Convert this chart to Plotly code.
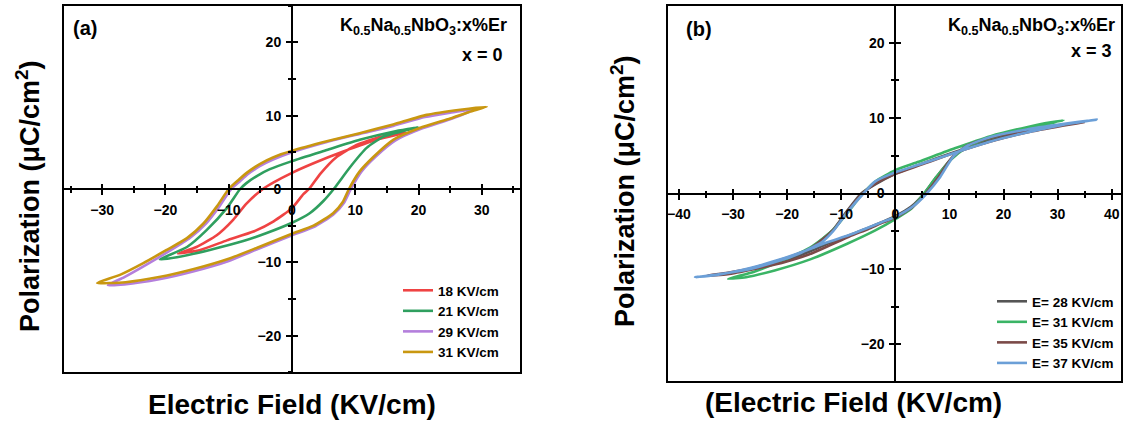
import plotly.graph_objects as go

W, H = 1123, 426
FONT = "Liberation Sans, Arial, Helvetica, sans-serif"

# ---------------- Panel (a): x = 0 ----------------
a_labels = ["18 KV/cm", "21 KV/cm", "29 KV/cm", "31 KV/cm"]
a_colors = ["#ef4343", "#2f9f5f", "#b47fdc", "#c99710"]

a18_E = [18.1, 13.4, 8.1, 3.4, 0.0, -2.9, -4.6, -7.2, -9.3, -11.9, -15.1, -18.0,
         -14.5, -10.3, -6.1, -2.9, 0.0, 1.8, 2.7, 4.5, 7.1, 10.2, 13.9, 18.1]
a18_P = [7.7, 6.7, 5.1, 3.5, 2.2, 0.9, 0.0, -2.0, -4.2, -6.3, -7.9, -8.8,
         -8.3, -7.0, -5.8, -4.4, -2.6, -0.7, 0.0, 2.1, 4.4, 6.0, 7.1, 7.7]

a21_E = [20.0, 16.0, 10.7, 5.5, 0.0, -3.5, -5.5, -7.2, -8.2, -10.3, -13.5, -16.6, -20.9,
         -18.2, -13.0, -7.7, -4.0, 0.0, 2.8, 5.0, 6.6, 9.2, 11.8, 14.4, 18.0, 20.0]
a21_P = [8.4, 7.8, 6.7, 5.3, 3.8, 2.7, 1.8, 0.8, 0.0, -2.6, -5.6, -7.9, -9.6,
         -9.3, -8.3, -7.1, -6.0, -4.6, -3.3, -1.6, 0.0, 3.0, 5.6, 7.1, 8.0, 8.4]

a29_E = [29.0, 25.0, 21.0, 16.0, 10.7, 5.5, 0.0, -3.0, -5.1, -7.0, -8.3, -9.6, -11.5,
         -13.6, -16.2, -19.3, -23.0, -26.5, -29.1,
         -26.5, -21.0, -15.5, -10.0, -5.5, 0.0, 3.4, 6.5, 8.2, 9.3, 11.0, 13.2, 16.3,
         20.4, 25.0, 29.0]
a29_P = [10.9, 10.4, 9.8, 8.6, 7.5, 6.4, 5.0, 4.0, 3.1, 2.0, 1.0, 0.0, -2.4,
         -4.7, -6.7, -8.4, -10.3, -12.0, -13.1,
         -13.0, -12.3, -11.2, -9.8, -8.2, -6.3, -5.2, -3.5, -1.9, 0.0, 2.4, 4.4, 6.6,
         8.2, 9.5, 10.9]

a31_E = [30.8, 26.6, 21.3, 16.0, 10.7, 5.5, 0.0, -3.0, -5.1, -7.0, -8.5, -10.0, -11.9,
         -14.0, -16.6, -19.8, -23.5, -27.2, -30.8,
         -26.3, -21.0, -15.5, -10.0, -5.5, 0.0, 3.4, 6.5, 8.0, 9.0, 10.7, 12.9, 16.0,
         20.2, 25.0, 28.0, 30.8]
a31_P = [11.2, 10.8, 10.1, 8.8, 7.6, 6.5, 5.2, 4.3, 3.4, 2.3, 1.2, 0.0, -2.4,
         -4.7, -6.7, -8.3, -10.1, -11.7, -12.8,
         -12.7, -12.0, -10.9, -9.5, -8.0, -6.1, -5.0, -3.3, -1.8, 0.0, 2.4, 4.4, 6.7,
         8.3, 9.6, 10.5, 11.2]

# ---------------- Panel (b): x = 3 ----------------
b_labels = ["E= 28 KV/cm", "E= 31 KV/cm", "E= 35 KV/cm", "E= 37 KV/cm"]
b_colors = ["#555555", "#3ab465", "#7b4a48", "#6b9fd7"]

b28_E = [28.2, 24.0, 17.6, 11.0, 4.3, 0.0, -3.7, -6.3, -9.0, -11.5, -15.5, -20.0, -24.5, -28.2,
         -24.5, -20.0, -15.5, -12.0, -8.0, -4.5, 0.0, 3.0, 5.3, 7.6, 10.2, 13.2, 17.6, 24.0, 28.2]
b28_P = [8.9, 8.3, 7.0, 5.5, 3.8, 2.6, 1.2, 0.0, -2.4, -4.8, -7.2, -8.6, -9.6, -10.2,
         -9.7, -8.8, -7.6, -6.5, -5.4, -4.4, -3.0, -1.7, 0.0, 2.2, 4.5, 6.3, 7.3, 8.4, 8.9]

b31_E = [31.1, 27.6, 24.3, 17.6, 11.0, 4.3, 0.0, -3.7, -6.0, -9.0, -11.6, -15.6, -20.9, -26.2, -30.9,
         -27.6, -22.3, -15.6, -9.0, -3.7, 0.0, 3.0, 5.3, 7.6, 10.3, 13.0, 16.3, 20.9, 27.6, 31.1]
b31_P = [9.7, 9.3, 8.8, 7.6, 6.0, 4.2, 3.1, 1.6, 0.0, -2.7, -4.9, -7.1, -8.9, -10.4, -11.3,
         -11.1, -10.2, -8.7, -6.7, -4.9, -3.4, -2.0, 0.0, 2.2, 4.5, 6.0, 7.1, 8.0, 9.1, 9.7]

b35_E = [35.0, 30.9, 24.3, 17.6, 11.0, 4.3, 0.0, -3.7, -6.1, -9.0, -11.5, -15.7, -20.3, -26.0, -31.0, -34.8,
         -31.0, -26.0, -21.0, -16.0, -12.5, -8.5, -5.0, -2.5, 0.0, 3.2, 5.6, 8.0, 10.5, 13.4, 17.6, 24.3, 30.9, 35.0]
b35_P = [9.5, 9.0, 8.1, 6.9, 5.4, 3.7, 2.6, 1.3, 0.0, -2.5, -4.9, -7.3, -8.6, -9.8, -10.5, -10.9,
         -10.7, -10.0, -9.2, -8.1, -7.0, -5.7, -4.7, -3.9, -3.2, -1.8, 0.0, 2.2, 4.8, 6.4, 7.4, 8.4, 9.0, 9.5]

b37_E = [37.2, 30.9, 24.3, 17.6, 11.0, 4.3, 0.0, -3.7, -5.9, -9.0, -11.5, -13.5, -17.5, -20.5, -26.2, -31.6, -37.0,
         -33.0, -27.0, -22.0, -17.0, -12.7, -8.5, -5.3, -2.5, 0.0, 3.3, 5.8, 8.3, 10.7, 13.5, 17.6, 24.3, 30.9, 37.2]
b37_P = [9.8, 9.1, 8.1, 6.9, 5.4, 3.8, 2.8, 1.6, 0.0, -2.6, -5.0, -6.4, -7.9, -8.7, -9.9, -10.6, -11.1,
         -10.8, -9.9, -8.9, -7.7, -6.5, -5.5, -4.6, -3.8, -3.1, -1.7, 0.0, 2.2, 4.9, 6.4, 7.5, 8.5, 9.2, 9.8]

a_series = [(a18_E, a18_P), (a21_E, a21_P), (a29_E, a29_P), (a31_E, a31_P)]
b_series = [(b28_E, b28_P), (b31_E, b31_P), (b35_E, b35_P), (b37_E, b37_P)]

# ---------------- layout geometry (pixels) ----------------
A_BOX = dict(x0=63, x1=521, y0=5, y1=373)
B_BOX = dict(x0=667, x1=1122, y0=5, y1=382)
A_XR, A_YR = [-36.2, 36.2], [-25.07, 25.07]
B_XR, B_YR = [-42.2, 41.9], [-25.0, 25.0]


def px_x(p):
    return p / W


def px_y(p):
    return 1 - p / H


def dom(box):
    return [px_x(box["x0"]), px_x(box["x1"])], [px_y(box["y1"]), px_y(box["y0"])]


fig = go.Figure()

for (E, P), lab, col in zip(a_series, a_labels, a_colors):
    fig.add_trace(go.Scatter(x=E, y=P, mode="lines", name=lab, xaxis="x", yaxis="y",
                             line=dict(color=col, width=2.6, shape="spline", smoothing=0.55),
                             legend="legend"))
for (E, P), lab, col in zip(b_series, b_labels, b_colors):
    fig.add_trace(go.Scatter(x=E, y=P, mode="lines", name=lab, xaxis="x2", yaxis="y2",
                             line=dict(color=col, width=2.6, shape="spline", smoothing=0.55),
                             legend="legend2"))
# empty traces to activate the overlay axes that give crossing ticks
fig.add_trace(go.Scatter(x=[None], y=[None], xaxis="x3", yaxis="y3", showlegend=False, hoverinfo="skip"))
fig.add_trace(go.Scatter(x=[None], y=[None], xaxis="x4", yaxis="y4", showlegend=False, hoverinfo="skip"))

tickfont = dict(family=FONT, size=14, color="black", weight="bold")


def axis_pair(xdom, ydom, xr, yr):
    x_zero = xdom[0] + (0 - xr[0]) / (xr[1] - xr[0]) * (xdom[1] - xdom[0])
    y_zero = ydom[0] + (0 - yr[0]) / (yr[1] - yr[0]) * (ydom[1] - ydom[0])
    common = dict(showline=True, linecolor="black", linewidth=2, showgrid=False, zeroline=False,
                  ticks="outside", ticklen=5, tickwidth=2, tickcolor="black", dtick=10, tick0=0,
                  minor=dict(dtick=5, ticks="outside", ticklen=3, tickwidth=2, tickcolor="black"),
                  tickfont=tickfont, fixedrange=True)
    xa = dict(common, domain=xdom, range=xr, anchor="free", position=y_zero, ticklabelstandoff=3)
    ya = dict(common, domain=ydom, range=yr, anchor="free", position=x_zero, ticklabelstandoff=2)
    inner = dict(showline=False, showgrid=False, zeroline=False, ticks="inside", ticklen=5,
                 tickwidth=2, tickcolor="black", dtick=10, tick0=0, showticklabels=False,
                 minor=dict(dtick=5, ticks="inside", ticklen=3, tickwidth=2, tickcolor="black"),
                 fixedrange=True)
    xi = dict(inner, range=xr, anchor="free", position=y_zero)
    yi = dict(inner, range=yr, anchor="free", position=x_zero)
    return xa, ya, xi, yi


axd, ayd = dom(A_BOX)
bxd, byd = dom(B_BOX)
xa1, ya1, xi1, yi1 = axis_pair(axd, ayd, A_XR, A_YR)
xa2, ya2, xi2, yi2 = axis_pair(bxd, byd, B_XR, B_YR)
xi1.update(overlaying="x")
yi1.update(overlaying="y")
xi2.update(overlaying="x2")
yi2.update(overlaying="y2")

shapes = [
    dict(type="rect", xref="x domain", yref="y domain", x0=0, x1=1, y0=0, y1=1,
         line=dict(color="black", width=2)),
    dict(type="rect", xref="x2 domain", yref="y2 domain", x0=0, x1=1, y0=0, y1=1,
         line=dict(color="black", width=2)),
]


def ann(text, x, y, size, xanchor="center", yanchor="middle", angle=0, bold=True):
    return dict(text=text, x=px_x(x), y=px_y(y), xref="paper", yref="paper", showarrow=False,
                xanchor=xanchor, yanchor=yanchor, textangle=angle,
                font=dict(family=FONT, size=size, color="black", weight="bold" if bold else "normal"))


formula = "K<sub>0.5</sub>Na<sub>0.5</sub>NbO<sub>3</sub>:x%Er"
annotations = [
    ann("(a)", 71, 28, 20, xanchor="left"),
    ann(formula, 509, 13, 18, xanchor="right", yanchor="top"),
    ann("x = 0", 505, 55, 18, xanchor="right"),
    ann("Polarization (μC/cm<sup>2</sup>)", 28, 196, 27, angle=-90),
    ann("Electric Field (KV/cm)", 292, 404, 28),
    ann("(b)", 684, 29, 20, xanchor="left"),
    ann(formula, 1117, 13, 18, xanchor="right", yanchor="top"),
    ann("x = 3", 1114, 51, 18, xanchor="right"),
    ann("Polarization (μC/cm<sup>2</sup>)", 623, 191, 27, angle=-90),
    ann("(Electric Field (KV/cm)", 853, 402, 28),
]

fig.update_layout(
    width=W, height=H, autosize=False,
    margin=dict(l=0, r=0, t=0, b=0),
    paper_bgcolor="white", plot_bgcolor="rgba(0,0,0,0)",
    xaxis=xa1, yaxis=ya1, xaxis3=xi1, yaxis3=yi1,
    xaxis2=xa2, yaxis2=ya2, xaxis4=xi2, yaxis4=yi2,
    shapes=shapes, annotations=annotations,
    legend=dict(x=px_x(398), y=px_y(275), xanchor="left", yanchor="top",
                bgcolor="rgba(0,0,0,0)", borderwidth=0, tracegroupgap=0,
                font=dict(family=FONT, size=13.5, color="black", weight="bold")),
    legend2=dict(x=px_x(992), y=px_y(286), xanchor="left", yanchor="top",
                 bgcolor="rgba(0,0,0,0)", borderwidth=0, tracegroupgap=0,
                 font=dict(family=FONT, size=13.5, color="black", weight="bold")),
    showlegend=True,
)

fig.write_html("out.html")
